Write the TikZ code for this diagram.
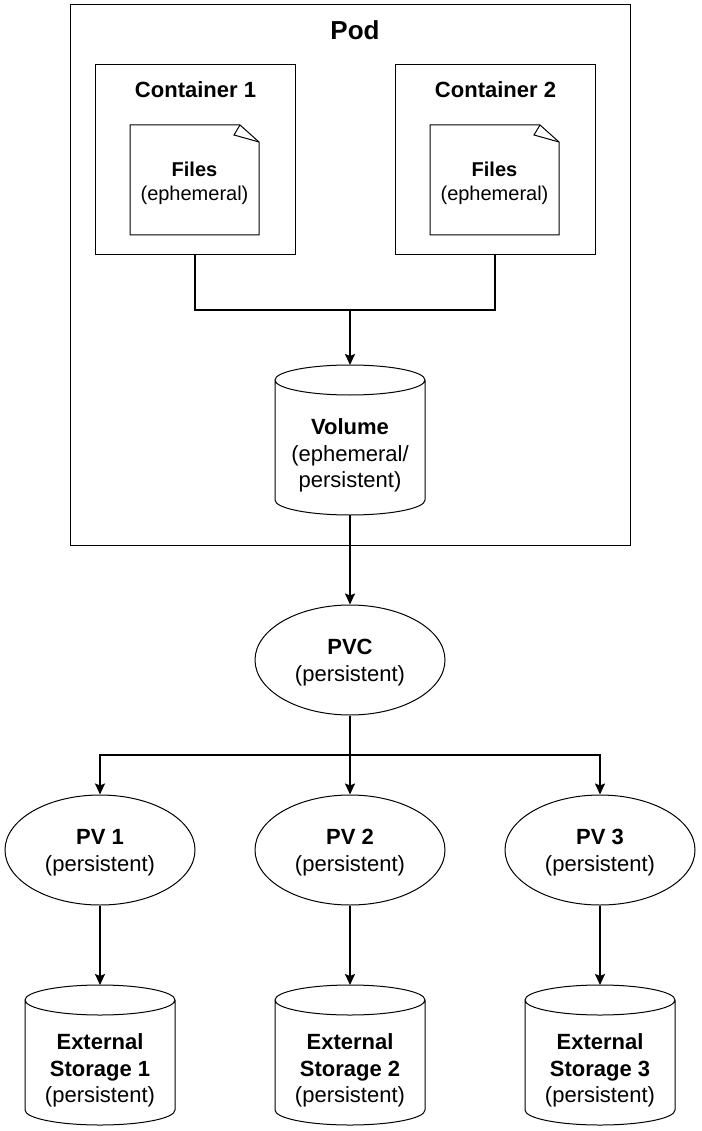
\documentclass[tikz,border=0pt]{standalone}
\usepackage{fontspec}
\setmainfont{Liberation Sans}
\usetikzlibrary{shapes.geometric,arrows.meta}
\tikzset{
  shapeline/.style={draw=black, line width=1pt},
  hidden/.style={inner sep=0pt, outer sep=0pt},
  wire/.style={draw=black, line width=1.8pt},
  conn/.style={wire, -{Stealth[length=11pt,width=10pt,inset=2pt]}},
  oval/.style={ellipse, shapeline, minimum width=190pt, minimum height=110pt, inner sep=0pt},
  ovallbl/.style={align=center, inner sep=0pt, font=\fontsize{22pt}{27pt}\selectfont},
  lbl/.style={align=center, inner sep=0pt, font=\fontsize{22pt}{26.5pt}\selectfont},
  notelbl/.style={align=center, inner sep=0pt, font=\fontsize{20pt}{24pt}\selectfont},
  ttl/.style={inner sep=0pt, font=\fontsize{22pt}{26pt}\selectfont\bfseries},
  bigttl/.style={inner sep=0pt, font=\fontsize{26pt}{30pt}\selectfont\bfseries},
}
\newcommand\drawcyl[1]{%
  \draw[shapeline] ([yshift=-15pt]#1.north west) -- ([yshift=15pt]#1.south west)
    arc[start angle=180, end angle=360, x radius=75pt, y radius=15pt]
    -- ([yshift=-15pt]#1.north east)
    arc[start angle=0, end angle=360, x radius=75pt, y radius=15pt];%
}
\newcommand\drawnote[1]{%
  \draw[shapeline] (#1.north west) -- ([xshift=-19pt]#1.north east)
    -- ([yshift=-17pt]#1.north east) -- (#1.south east) -- (#1.south west) -- cycle;
  \draw[shapeline] ([xshift=-19pt]#1.north east) -- ([xshift=-25pt,yshift=-10pt]#1.north east)
    -- ([yshift=-17pt]#1.north east);%
}
\begin{document}
\begin{tikzpicture}[x=1pt,y=-1pt]
\useasboundingbox (0,0) rectangle (701,1131);
\fill[white] (0,0) rectangle (701,1131);

% Pod
\node[shapeline, hidden, minimum width=560pt, minimum height=540pt] (pod) at (350,275) {};
\node[bigttl] (podlabel) at (355,30) {Pod};

% Containers
\node[shapeline, hidden, minimum width=200pt, minimum height=190pt] (c1) at (195,160) {};
\node[ttl] (c1label) at (195.5,90) {Container 1};
\node[shapeline, hidden, minimum width=200pt, minimum height=190pt] (c2) at (495,160) {};
\node[ttl] (c2label) at (495.5,90) {Container 2};

% Files notes
\node[hidden, minimum width=129pt, minimum height=110pt] (f1) at (194.5,180) {};
\drawnote{f1}
\node[notelbl] (f1label) at (194.5,183) {\textbf{Files}\\(ephemeral)};
\node[hidden, minimum width=129pt, minimum height=110pt] (f2) at (494.5,180) {};
\drawnote{f2}
\node[notelbl] (f2label) at (494.5,183) {\textbf{Files}\\(ephemeral)};

% Volume
\node[hidden, minimum width=150pt, minimum height=150pt] (vol) at (350,440) {};
\drawcyl{vol}
\node[lbl] (vollabel) at (350,455.5) {\textbf{Volume}\\(ephemeral/\\persistent)};

% PVC
\node[oval] (pvc) at (350,660) {};
\node[ovallbl] (pvclabel) at (350,663) {\textbf{PVC}\\(persistent)};

% PVs
\node[oval] (pv1) at (100,850) {};
\node[ovallbl] (pv1label) at (100,853) {\textbf{PV 1}\\(persistent)};
\node[oval] (pv2) at (350,850) {};
\node[ovallbl] (pv2label) at (350,853) {\textbf{PV 2}\\(persistent)};
\node[oval] (pv3) at (600,850) {};
\node[ovallbl] (pv3label) at (600,853) {\textbf{PV 3}\\(persistent)};

% External storages
\node[hidden, minimum width=150pt, minimum height=140pt] (s1) at (100,1055) {};
\drawcyl{s1}
\node[lbl] (s1label) at (100,1070.5) {\textbf{External}\\\textbf{Storage 1}\\(persistent)};
\node[hidden, minimum width=150pt, minimum height=140pt] (s2) at (350,1055) {};
\drawcyl{s2}
\node[lbl] (s2label) at (350,1070.5) {\textbf{External}\\\textbf{Storage 2}\\(persistent)};
\node[hidden, minimum width=150pt, minimum height=140pt] (s3) at (600,1055) {};
\drawcyl{s3}
\node[lbl] (s3label) at (600,1070.5) {\textbf{External}\\\textbf{Storage 3}\\(persistent)};

% Connectors
\coordinate (join) at (350,310);
\draw[wire] (c1.south) |- (join);
\draw[wire] (c2.south) |- (join);
\draw[conn] (join) -- (vol.north);
\draw[conn] (vol.south) -- (pvc.north);
\coordinate (split) at (350,755);
\draw[wire] (pvc.south) -- (split);
\draw[conn] (split) -| (pv1.north);
\draw[conn] (split) -- (pv2.north);
\draw[conn] (split) -| (pv3.north);
\draw[conn] (pv1.south) -- (s1.north);
\draw[conn] (pv2.south) -- (s2.north);
\draw[conn] (pv3.south) -- (s3.north);
\end{tikzpicture}
\end{document}
